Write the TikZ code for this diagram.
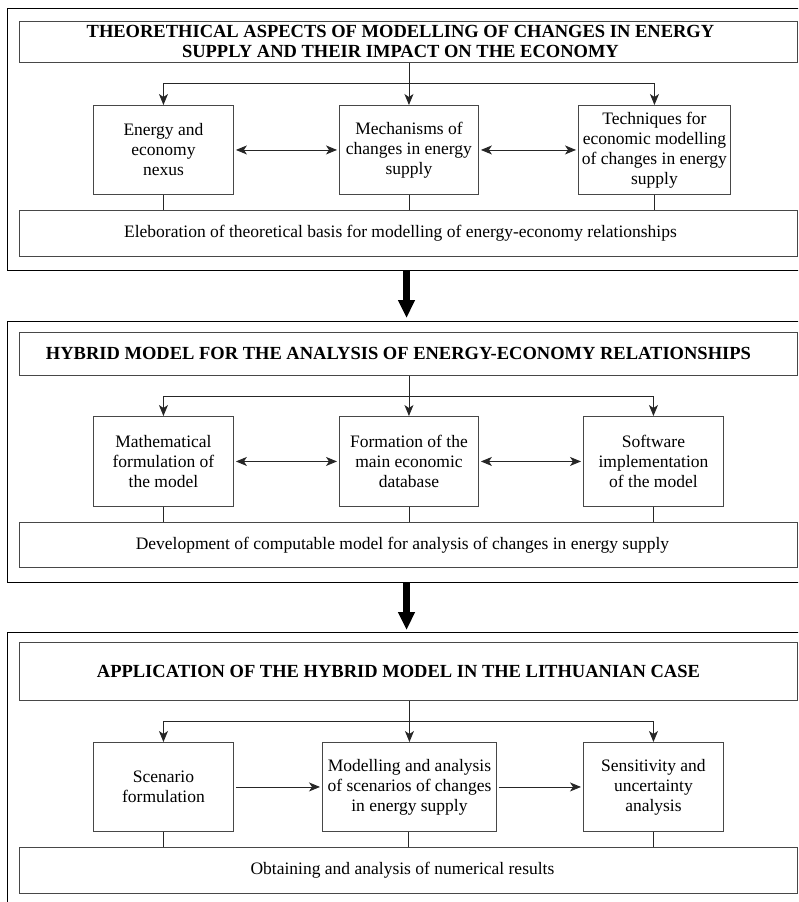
\documentclass[tikz,border=0pt]{standalone}
\usepackage{fontspec}
\setmainfont{Liberation Serif}
\usetikzlibrary{arrows.meta}
\begin{document}
\begin{tikzpicture}[x=1pt,y=-1pt,
  panel/.style={draw=black, line width=1pt},
  blk/.style={draw=black!72, line width=0.9pt, inner sep=0pt, anchor=north west},
  txt/.style={align=center, inner sep=0pt, font=\fontsize{17.5}{20}\selectfont},
  ttxt/.style={align=center, inner sep=0pt, font=\bfseries\fontsize{18.5}{20}\selectfont},
  conn/.style={draw=black!85, line width=0.9pt},
  tip/.tip={Stealth[length=11pt,width=9pt,inset=3pt]},
  arr/.style={conn, -tip},
  darr/.style={conn, tip-tip, shorten <=2pt, shorten >=2pt},
  sarr/.style={conn, -tip, shorten <=2pt, shorten >=2pt},
  big/.style={line width=7pt, -{Triangle[length=18pt,width=16pt]}}
]
\useasboundingbox (0,0) rectangle (798,902);
\clip (0,0) rectangle (798,902);

% ---------- Panel 1 ----------
\draw[panel] (7,8) rectangle (810,270);
\node[blk, minimum width=778pt, minimum height=41pt] (t1) at (19,21) {};
\node[ttxt] (t1x) at ([xshift=-8pt]t1.center) {THEORETHICAL ASPECTS OF MODELLING OF CHANGES IN ENERGY\\SUPPLY AND THEIR IMPACT ON THE ECONOMY};
\node[blk, minimum width=140pt, minimum height=89pt] (a1) at (93,105) {};
\node[txt] (a1x) at (a1.center) {Energy and\\economy\\nexus};
\node[blk, minimum width=139pt, minimum height=89pt] (b1) at (339,105) {};
\node[txt] (b1x) at (b1.center) {Mechanisms of\\changes in energy\\supply};
\node[blk, minimum width=152pt, minimum height=89pt] (c1) at (578,105) {};
\node[txt] (c1x) at (c1.center) {Techniques for\\economic modelling\\of changes in energy\\supply};
\node[blk, minimum width=778pt, minimum height=46pt] (e1) at (19,210) {};
\node[txt] (e1x) at ([xshift=-8pt]e1.center) {Eleboration of theoretical basis for modelling of energy-economy relationships};
\coordinate (h1) at (408,83);
\draw[arr] (t1.south -| b1.north) -- (b1.north);
\draw[conn] (h1 -| a1.north) -- (h1 -| c1.north);
\draw[arr] (h1 -| a1.north) -- (a1.north);
\draw[arr] (h1 -| c1.north) -- (c1.north);
\draw[darr] (a1.east) -- (b1.west);
\draw[darr] (b1.east) -- (c1.west);
\draw[conn] (a1.south) -- (a1.south |- e1.north);
\draw[conn] (b1.south) -- (b1.south |- e1.north);
\draw[conn] (c1.south) -- (c1.south |- e1.north);

% ---------- Big arrow 1 ----------
\coordinate (g1s) at (406.5,270);
\coordinate (g1e) at (406.5,318);
\draw[big] (g1s) -- (g1e);

% ---------- Panel 2 ----------
\draw[panel] (7,321) rectangle (810,582);
\node[blk, minimum width=778pt, minimum height=43pt] (t2) at (19,332) {};
\node[ttxt] (t2x) at ([xshift=-10pt]t2.center) {HYBRID MODEL FOR THE ANALYSIS OF ENERGY-ECONOMY RELATIONSHIPS};
\node[blk, minimum width=140pt, minimum height=90pt] (a2) at (93,416) {};
\node[txt] (a2x) at (a2.center) {Mathematical\\formulation of\\the model};
\node[blk, minimum width=139pt, minimum height=90pt] (b2) at (339,416) {};
\node[txt] (b2x) at (b2.center) {Formation of the\\main economic\\database};
\node[blk, minimum width=140pt, minimum height=90pt] (c2) at (583,416) {};
\node[txt] (c2x) at (c2.center) {Software\\implementation\\of the model};
\node[blk, minimum width=778pt, minimum height=45pt] (e2) at (19,522) {};
\node[txt] (e2x) at ([xshift=-6pt]e2.center) {Development of computable model for analysis of changes in energy supply};
\coordinate (h2) at (408,396);
\draw[arr] (t2.south -| b2.north) -- (b2.north);
\draw[conn] (h2 -| a2.north) -- (h2 -| c2.north);
\draw[arr] (h2 -| a2.north) -- (a2.north);
\draw[arr] (h2 -| c2.north) -- (c2.north);
\draw[darr] (a2.east) -- (b2.west);
\draw[darr] (b2.east) -- (c2.west);
\draw[conn] (a2.south) -- (a2.south |- e2.north);
\draw[conn] (b2.south) -- (b2.south |- e2.north);
\draw[conn] (c2.south) -- (c2.south |- e2.north);

% ---------- Big arrow 2 ----------
\coordinate (g2s) at (406.5,582);
\coordinate (g2e) at (406.5,630);
\draw[big] (g2s) -- (g2e);

% ---------- Panel 3 ----------
\draw[panel] (7,632) rectangle (810,920);
\node[blk, minimum width=778pt, minimum height=58pt] (t3) at (19,642) {};
\node[ttxt] (t3x) at ([xshift=-10pt]t3.center) {APPLICATION OF THE HYBRID MODEL IN THE LITHUANIAN CASE};
\node[blk, minimum width=140pt, minimum height=89pt] (a3) at (93,742) {};
\node[txt] (a3x) at (a3.center) {Scenario\\formulation};
\node[blk, minimum width=174pt, minimum height=89pt] (b3) at (322,742) {};
\node[txt] (b3x) at (b3.center) {Modelling and analysis\\of scenarios of changes\\in energy supply};
\node[blk, minimum width=140pt, minimum height=89pt] (c3) at (583,742) {};
\node[txt] (c3x) at (c3.center) {Sensitivity and\\uncertainty\\analysis};
\node[blk, minimum width=778pt, minimum height=46pt] (e3) at (19,847) {};
\node[txt] (e3x) at ([xshift=-6pt]e3.center) {Obtaining and analysis of numerical results};
\coordinate (h3) at (408,721);
\draw[arr] (t3.south -| b3.north) -- (b3.north);
\draw[conn] (h3 -| a3.north) -- (h3 -| c3.north);
\draw[arr] (h3 -| a3.north) -- (a3.north);
\draw[arr] (h3 -| c3.north) -- (c3.north);
\draw[sarr] (a3.east) -- (b3.west);
\draw[sarr] (b3.east) -- (c3.west);
\draw[conn] (a3.south) -- (a3.south |- e3.north);
\draw[conn] ([xshift=-1pt]b3.south) -- ([xshift=-1pt]b3.south |- e3.north);
\draw[conn] (c3.south) -- (c3.south |- e3.north);
\end{tikzpicture}
\end{document}
